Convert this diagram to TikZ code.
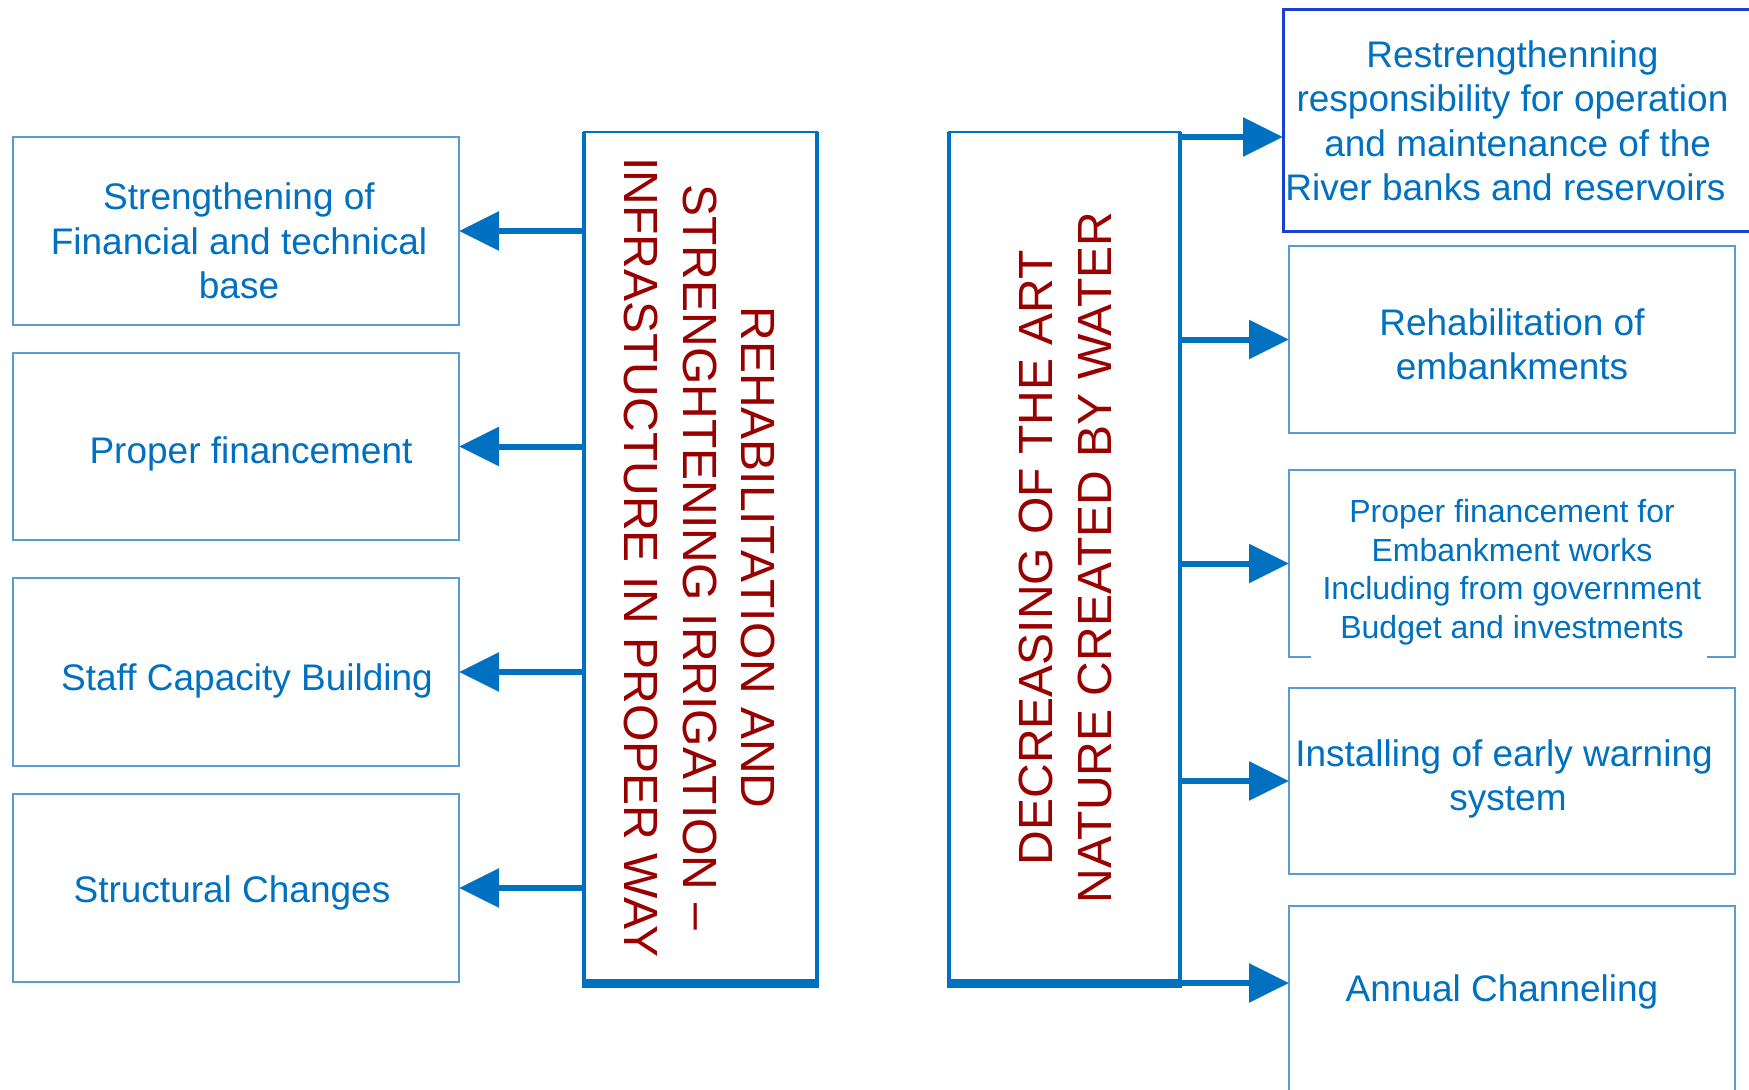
\documentclass[tikz,border=0pt]{standalone}
\usepackage{fontspec}
\usepackage{graphicx}
\setmainfont{Liberation Sans}
\usetikzlibrary{arrows.meta}
\definecolor{mainblue}{HTML}{0070C0}
\definecolor{lightblue}{HTML}{5B9BD5}
\definecolor{txtblue}{HTML}{0070C0}
\definecolor{darkred}{HTML}{990000}
\definecolor{rblue}{HTML}{1A3FCC}
\newcommand{\upstrut}[1]{\rule{0pt}{#1pt}}
\begin{document}
\begin{tikzpicture}[x=1pt,y=-1pt,
  smallbox/.style={draw=lightblue, line width=1.5pt, inner sep=0pt, outer sep=0pt, text=txtblue, align=center, font=\fontsize{37}{44.5}\selectfont},
  mainbox/.style={draw=mainblue, line width=2.5pt, inner sep=0pt, outer sep=0pt, text=darkred, font=\fontsize{48}{58.5}\selectfont},
  edgeline/.style={draw=mainblue, line width=4.5pt},
  bottomline/.style={draw=mainblue, line width=9pt},
  arr/.style={draw=mainblue, line width=6pt, -{Triangle[length=40pt,width=38pt]}}]
\clip (0,0) rectangle (1749,1090);
\fill[white] (0,0) rectangle (1749,1090);

% left boxes
\node[smallbox, minimum width=446pt, minimum height=188pt] (L1) at (236,231) {\upstrut{47}\hspace*{6pt}Strengthening of\\\hspace*{6pt}Financial and technical\\\hspace*{6pt}base};
\node[smallbox, minimum width=446pt, minimum height=187pt] (L2) at (236,446.5) {\upstrut{41}\hspace*{30pt}Proper financement};
\node[smallbox, minimum width=446pt, minimum height=188pt] (L3) at (236,672) {\upstrut{45}\hspace*{22pt}Staff Capacity Building};
\node[smallbox, minimum width=446pt, minimum height=188pt] (L4) at (236,888) {\upstrut{36}\hspace*{-8pt}Structural Changes};

% main boxes
\node[mainbox, minimum width=233pt, minimum height=851pt] (rehab) at (700.5,557.5)
  {\hspace*{-11pt}\rotatebox{-90}{\begin{tabular}{@{}c@{}}REHABILITATION AND\\STRENGHTENING IRRIGATION –\\INFRASTUCTURE IN PROPER WAY\end{tabular}}};
\node[mainbox, minimum width=231pt, minimum height=851pt] (decr) at (1064.5,557.5)
  {\rotatebox{90}{\begin{tabular}{@{}c@{}}DECREASING OF THE ART\\NATURE CREATED BY WATER\end{tabular}}\hspace*{-12pt}};
\draw[edgeline] (rehab.north west) -- (rehab.south west);
\draw[edgeline] (rehab.north east) -- (rehab.south east);
\draw[bottomline] ([xshift=-2pt]rehab.south west) -- ([xshift=2pt]rehab.south east);
\draw[edgeline] (decr.north west) -- (decr.south west);
\draw[edgeline] (decr.north east) -- (decr.south east);
\draw[bottomline] ([xshift=-2pt]decr.south west) -- ([xshift=2pt]decr.south east);

% right boxes
\node[smallbox, draw=rblue, line width=3pt, minimum width=477pt, minimum height=222pt] (R1) at (1521.5,120)
  {\begin{tabular}{@{}c@{}}\upstrut{41}Restrengthenning\\responsibility for operation\\ \ and maintenance of the\\\hspace*{-14pt}River banks and reservoirs\end{tabular}\hspace*{18pt}};
\node[smallbox, minimum width=446pt, minimum height=187pt] (R2) at (1512,339.5) {\upstrut{36}Rehabilitation of\\embankments};
\node[smallbox, draw=none, minimum width=446pt, minimum height=187pt, font=\fontsize{32}{38.5}\selectfont] (R3) at (1512,563.5)
  {\upstrut{41}Proper financement for\\Embankment works\\Including from government\\Budget and investments};
\draw[draw=lightblue, line width=1.5pt] ([xshift=22pt]R3.south west) -- (R3.south west) -- (R3.north west) -- (R3.north east) -- (R3.south east) -- ([xshift=-28pt]R3.south east);
\node[smallbox, minimum width=446pt, minimum height=186pt] (R4) at (1512,781) {\hspace*{-16pt}Installing of early warning\\\hspace*{-8pt}system\rule[-12pt]{0pt}{0pt}};
\node[smallbox, draw=none, minimum width=446pt, minimum height=162pt] (R5) at (1512,987) {\upstrut{36}Annual Channeling\hspace*{20pt}};
\draw[draw=lightblue, line width=1.5pt] ([yshift=-60pt]R5.south west) -- (R5.north west) -- (R5.north east) -- ([yshift=-60pt]R5.south east);

% connectors
\draw[arr] (rehab.west |- L1.east) -- (L1.east);
\draw[arr] (rehab.west |- L2.east) -- (L2.east);
\draw[arr] (rehab.west |- L3.east) -- (L3.east);
\draw[arr] (rehab.west |- L4.east) -- (L4.east);
\coordinate (a1) at ([yshift=-5pt]decr.north east);
\draw[arr] (a1) -- (a1 -| R1.west);
\draw[arr] (decr.east |- R2.west) -- (R2.west);
\draw[arr] (decr.east |- R3.west) -- (R3.west);
\draw[arr] (decr.east |- R4.west) -- (R4.west);
\draw[arr] (decr.south east) -- (decr.south east -| R5.west);
\end{tikzpicture}
\end{document}
